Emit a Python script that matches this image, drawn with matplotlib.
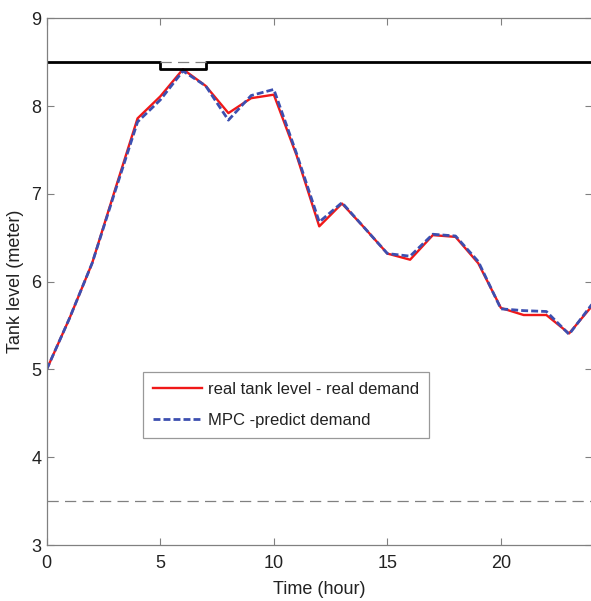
import matplotlib
matplotlib.use("Agg")
import matplotlib.pyplot as plt
import numpy as np

# hourly samples
hours = np.arange(0, 25)
real_level = [5.00, 5.58, 6.21, 7.04, 7.86, 8.11, 8.42, 8.23, 7.92, 8.09, 8.13,
              7.44, 6.63, 6.89, 6.61, 6.32, 6.25, 6.53, 6.51, 6.21, 5.70,
              5.62, 5.62, 5.41, 5.72]
mpc_level = [5.00, 5.58, 6.21, 7.02, 7.82, 8.07, 8.40, 8.23, 7.84, 8.12, 8.19,
             7.46, 6.68, 6.90, 6.61, 6.32, 6.29, 6.54, 6.52, 6.23, 5.69,
             5.67, 5.66, 5.40, 5.74]

# upper tank limit (with the notch between hour 5 and 7) and lower limit
limit_t = [0, 5, 5, 7, 7, 24]
limit_level = [8.5, 8.5, 8.42, 8.42, 8.5, 8.5]
notch_t = [5, 7]
notch_level = [8.5, 8.5]
low_limit = 3.5

plt.rcParams["font.family"] = ["Liberation Sans", "DejaVu Sans"]

W, H = 591, 601
fig = plt.figure(figsize=(W / 100, H / 100), dpi=100)
ax = fig.add_axes([46.7 / W, 56 / H, (591.8 - 46.7) / W, 526.7 / H])

ax.plot(hours, real_level, color="#f01818", lw=1.7, label="real tank level - real demand")
ax.plot(hours, mpc_level, color="#3c4fb0", lw=2.0, ls=(0, (2.5, 1.1)), label="MPC -predict demand")

ax.plot(limit_t, limit_level, color="black", lw=2.0)
ax.plot(notch_t, notch_level, color="#808080", lw=0.9, ls=(0, (9, 5)))
ax.axhline(low_limit, color="#808080", lw=0.9, ls=(0, (9, 5)))

ax.set_xlim(0, 24)
ax.set_ylim(3, 9)
ax.set_xticks([0, 5, 10, 15, 20])
ax.set_yticks([3, 4, 5, 6, 7, 8, 9])
ax.tick_params(direction="in", length=5, width=0.8, color="#808080",
               labelsize=13, labelcolor="#222222", top=True, right=True)
ax.tick_params(axis="x", pad=7.5)
ax.tick_params(axis="y", pad=4)
for sp in ax.spines.values():
    sp.set_color("#808080")
    sp.set_linewidth(0.9)

ax.set_xlabel("Time (hour)", fontsize=13, color="#222222", labelpad=6)
ax.set_ylabel("Tank level (meter)", fontsize=13, color="#222222", labelpad=5)

leg = ax.legend(loc="upper left", bbox_to_anchor=((143.3 - 46.7) / 545.1, (545 - 371.7) / 526.7),
                fontsize=12, frameon=True, fancybox=False, handlelength=2.9,
                handletextpad=0.36, borderpad=0.6, labelspacing=0.95,
                borderaxespad=0, handleheight=0.7)
leg.get_frame().set_edgecolor("#808080")
leg.get_frame().set_linewidth(0.9)
for t in leg.get_texts():
    t.set_color("#222222")

fig.savefig("out.png", dpi=100)
